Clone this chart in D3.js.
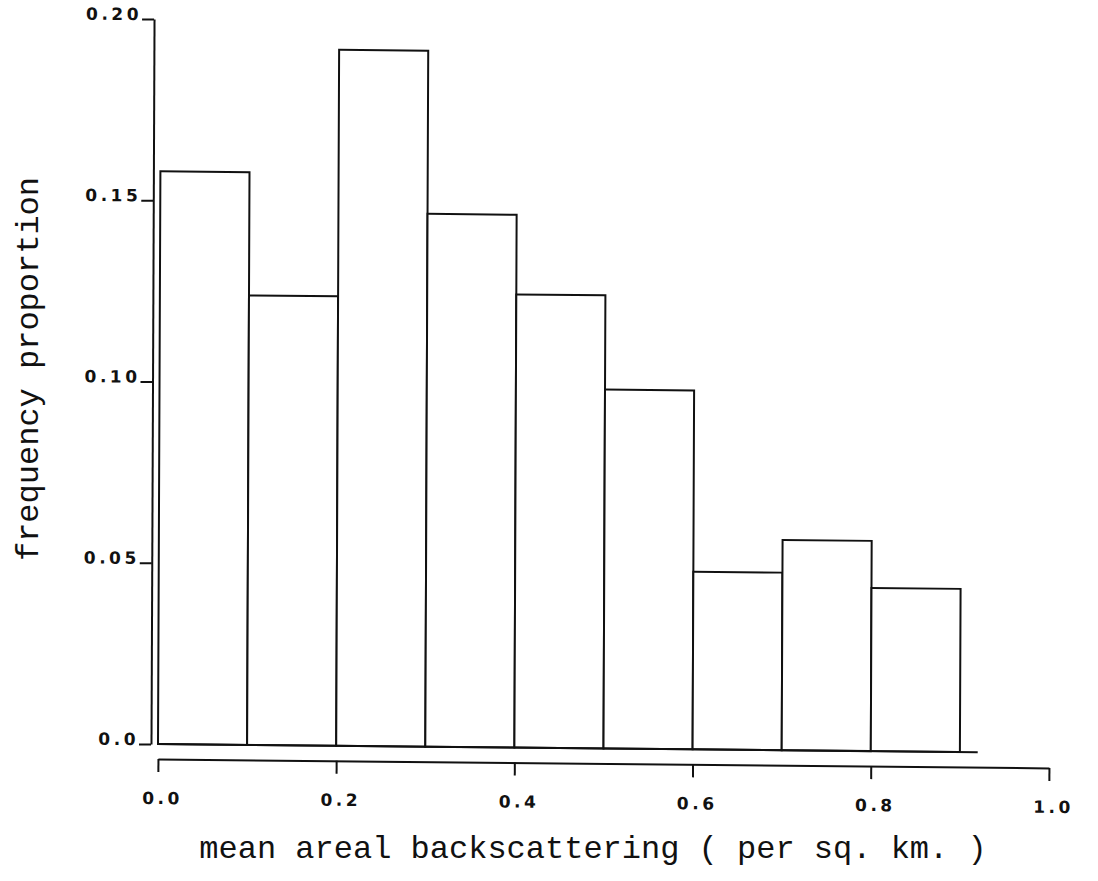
<!DOCTYPE html>
<html>
<head>
<meta charset="utf-8">
<script src="https://cdn.jsdelivr.net/npm/d3@7/dist/d3.min.js"></script>
<style>
  html, body { margin: 0; padding: 0; background: #fff; }
  svg { display: block; }
</style>
</head>
<body>
<svg id="chart" width="1098" height="881"></svg>
<script>
// Histogram bins (left edge of each 0.1-wide class) and their frequency proportions
const binStarts = [0.0, 0.1, 0.2, 0.3, 0.4, 0.5, 0.6, 0.7, 0.8];
const binWidth = 0.1;
const proportions = [0.158, 0.124, 0.192, 0.147, 0.125, 0.099, 0.049, 0.058, 0.045];

// Axis ticks and their printed labels
const xTicks = [0.0, 0.2, 0.4, 0.6, 0.8, 1.0];
const xTickLabels = ["0.0", "0.2", "0.4", "0.6", "0.8", "1.0"];
const yTicks = [0.0, 0.05, 0.10, 0.15, 0.20];
const yTickLabels = ["0.0", "0.05", "0.10", "0.15", "0.20"];

const xTitle = "mean areal backscattering ( per sq. km. )";
const yTitle = "frequency proportion";

const ink = "#111";
const tickFont = sel => sel
  .style("font-family", '"DejaVu Sans", sans-serif')
  .style("font-weight", "bold")
  .style("font-size", "17px")
  .style("letter-spacing", "3.5px")
  .style("fill", ink);
const titleFont = sel => sel
  .style("font-family", '"Liberation Mono", "DejaVu Sans Mono", monospace')
  .style("font-size", "32px")
  .style("fill", ink);

const svg = d3.select("#chart");

const x = d3.scaleLinear().domain([0, 1]).range([158, 1049]);
const y = d3.scaleLinear().domain([0, 0.2]).range([744, 19]);
const yAxisX = 151;
const xAxisY = 759;

// The plotted frame sits at a slight tilt on the page
const ox = yAxisX, oy = y(0);
const kx = -0.0042, ky = 0.0099;
const plot = svg.append("g")
  .attr("transform", `matrix(1,${ky},${kx},1,${-kx * oy},${-ky * ox})`);

// Bars
plot.append("g")
  .selectAll("rect")
  .data(binStarts.map((s, i) => ({ s, v: proportions[i] })))
  .join("rect")
  .attr("x", d => x(d.s))
  .attr("width", d => x(d.s + binWidth) - x(d.s))
  .attr("y", d => y(d.v))
  .attr("height", d => y(0) - y(d.v))
  .attr("fill", "#fff")
  .attr("stroke", ink)
  .attr("stroke-width", 2);

// Baseline under the bars, running a little past the last class
const lastEdge = binStarts[binStarts.length - 1] + binWidth;
plot.append("line")
  .attr("x1", x(0)).attr("x2", x(lastEdge + 0.02))
  .attr("y1", y(0)).attr("y2", y(0))
  .attr("stroke", ink).attr("stroke-width", 2);

// Y axis
const yAxis = d3.axisLeft(y)
  .tickValues(yTicks)
  .tickSize(12)
  .tickSizeOuter(0)
  .tickPadding(0)
  .tickFormat((d, i) => yTickLabels[i]);
const gy = plot.append("g")
  .attr("transform", `translate(${yAxisX},0)`)
  .call(yAxis);
gy.select(".domain").attr("stroke", ink).attr("stroke-width", 2);
gy.selectAll(".tick line").attr("stroke", ink).attr("stroke-width", 2);
gy.selectAll(".tick text")
  .attr("x", -12)
  .attr("dy", "0.05em")
  .call(tickFont);

// X axis
const xAxis = d3.axisBottom(x)
  .tickValues(xTicks)
  .tickSize(13)
  .tickSizeOuter(0)
  .tickFormat((d, i) => xTickLabels[i]);
const gx = plot.append("g")
  .attr("transform", `translate(0,${xAxisY})`)
  .call(xAxis);
gx.select(".domain").attr("stroke", ink).attr("stroke-width", 2);
gx.selectAll(".tick line").attr("stroke", ink).attr("stroke-width", 2);
gx.selectAll(".tick text")
  .attr("text-anchor", "start")
  .attr("x", -16)
  .attr("y", 45)
  .attr("dy", null)
  .call(tickFont);

// Axis titles
svg.append("text")
  .attr("x", 593)
  .attr("y", 858)
  .attr("text-anchor", "middle")
  .call(titleFont)
  .text(xTitle);

svg.append("text")
  .attr("transform", "translate(38,369) rotate(-90)")
  .attr("text-anchor", "middle")
  .call(titleFont)
  .text(yTitle);
</script>
</body>
</html>
